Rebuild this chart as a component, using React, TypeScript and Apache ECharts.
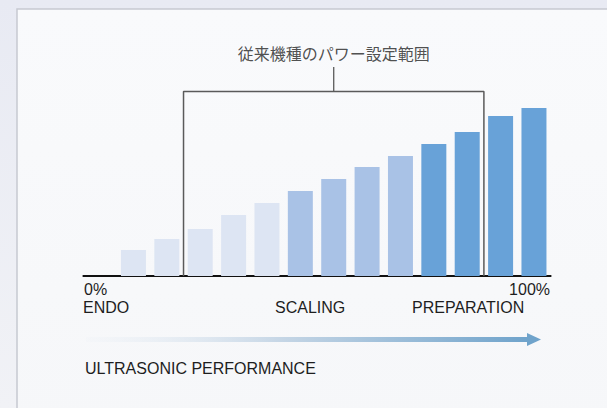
import React, { useEffect, useRef } from "react";
import * as echarts from "echarts";

// ---- data ----
const categories = ["0", "1", "2", "3", "4", "5", "6", "7", "8", "9", "10", "11", "12", "13"];
const powerValues = [0, 26, 37, 47, 61, 73, 85, 97, 109, 120, 132, 144, 160, 168];
const tiers = ["low", "low", "low", "low", "low", "low", "mid", "mid", "mid", "mid", "high", "high", "high", "high"];
const tierColors: Record<string, string> = { low: "#dde5f3", mid: "#a9c2e6", high: "#68a2d8" };
// bracket: previous model's power range (slot boundaries 3 .. 12)
const bracketStart = 3;
const bracketEnd = 12;
const bracketTop = 184.5;
const bracketTickTop = 209;
const bracketLabel = "従来機種のパワー設定範囲";
const scaleLabels = { min: "0%", max: "100%" };
const modeLabels = ["ENDO", "SCALING", "PREPARATION"];
const axisTitle = "ULTRASONIC PERFORMANCE";

const latin = "'Liberation Sans', Arial, sans-serif";
const cjk = "'Noto Sans CJK JP', sans-serif";

export default function App() {
  const ref = useRef<HTMLDivElement>(null);
  useEffect(() => {
    if (!ref.current) return;
    const chart = echarts.init(ref.current, null, { renderer: "svg" });
    const mid = (bracketStart + bracketEnd) / 2;
    const textStyle = (extra: any) => ({ fill: "#1e1e1e", font: `16px ${latin}`, ...extra });
    chart.setOption({
      animation: false,
      backgroundColor: {
        type: "linear", x: 0, y: 0, x2: 0, y2: 1,
        colorStops: [{ offset: 0, color: "#e8eaf3" }, { offset: 1, color: "#f1f2f6" }],
      },
      grid: { left: 83.4, width: 467.25, top: 56, height: 220, containLabel: false },
      xAxis: [
        {
          type: "category", data: categories, boundaryGap: true,
          axisLine: { show: true, lineStyle: { color: "#111", width: 2 } },
          axisTick: { show: false }, axisLabel: { show: false }, splitLine: { show: false },
        },
        { type: "value", min: 0, max: 14, show: false },
      ],
      yAxis: { type: "value", min: 0, max: 220, show: false, splitLine: { show: false } },
      series: [
        {
          type: "bar", xAxisIndex: 0, barWidth: 25, z: 2,
          data: powerValues.map((v, i) => ({ value: v, itemStyle: { color: tierColors[tiers[i]] } })),
        },
        {
          type: "line", xAxisIndex: 1, symbol: "none", z: 3,
          lineStyle: { color: "#5a5a5a", width: 1.5 },
          data: [[bracketStart, 0], [bracketStart, bracketTop], [bracketEnd, bracketTop], [bracketEnd, 0]],
        },
        {
          type: "line", xAxisIndex: 1, symbol: "none", z: 3,
          lineStyle: { color: "#5a5a5a", width: 1.3 },
          data: [[mid, bracketTop], [mid, bracketTickTop]],
        },
        {
          type: "scatter", xAxisIndex: 1, symbolSize: 0, z: 3,
          data: [[mid, bracketTickTop]],
          label: {
            show: true, position: "top", distance: 6, formatter: bracketLabel,
            fontFamily: cjk, fontSize: 16, color: "#222",
          },
        },
      ],
      graphic: [
        {
          type: "rect", z: -10, silent: true,
          shape: { x: 17, y: 9, width: 620, height: 420 },
          style: {
            fill: { type: "linear", x: 0, y: 0, x2: 0, y2: 1, colorStops: [{ offset: 0, color: "#f9fafc" }, { offset: 1, color: "#f6f7f9" }] },
            stroke: "#c6c9d1", lineWidth: 1.5,
          },
        },
        { type: "text", z: 10, x: 84, y: 289, style: textStyle({ text: scaleLabels.min, textVerticalAlign: "middle" }) },
        { type: "text", z: 10, x: 550, y: 289, style: textStyle({ text: scaleLabels.max, textAlign: "right", textVerticalAlign: "middle" }) },
        { type: "text", z: 10, x: 83, y: 307, style: textStyle({ text: modeLabels[0], textVerticalAlign: "middle" }) },
        { type: "text", z: 10, x: 275, y: 307, style: textStyle({ text: modeLabels[1], textVerticalAlign: "middle" }) },
        { type: "text", z: 10, x: 412, y: 307, style: textStyle({ text: modeLabels[2], textVerticalAlign: "middle" }) },
        { type: "text", z: 10, x: 85, y: 368, style: textStyle({ text: axisTitle, textVerticalAlign: "middle" }) },
        {
          type: "rect", z: 5, silent: true,
          shape: { x: 86, y: 337, width: 442, height: 5 },
          style: {
            fill: {
              type: "linear", x: 0, y: 0, x2: 1, y2: 0,
              colorStops: [
                { offset: 0, color: "rgba(235,240,246,0.2)" },
                { offset: 0.45, color: "#c4d5e5" },
                { offset: 1, color: "#6fa3cb" },
              ],
            },
          },
        },
        {
          type: "polygon", z: 5, silent: true,
          shape: { points: [[527, 333], [541, 339.5], [527, 346]] },
          style: { fill: "#6fa3cb" },
        },
      ],
    });
    return () => chart.dispose();
  }, []);
  return <div ref={ref} style={{ position: "absolute", left: 0, top: 0, width: 607, height: 408 }} />;
}
